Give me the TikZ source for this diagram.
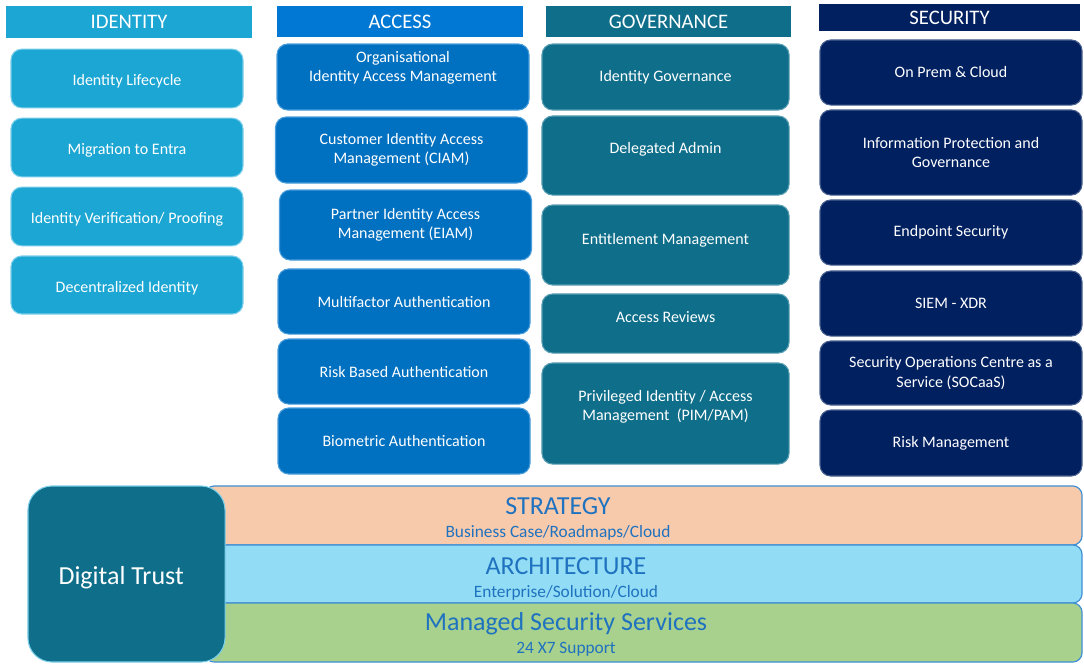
\documentclass[tikz,border=0pt]{standalone}
\usepackage{fontspec}
\setmainfont{Carlito}
\definecolor{idblue}{HTML}{1CA6D3}
\definecolor{idedge}{HTML}{7CCFEA}
\definecolor{acchead}{HTML}{0078D4}
\definecolor{accblue}{HTML}{0070C0}
\definecolor{accedge}{HTML}{4A9EDC}
\definecolor{govteal}{HTML}{0F6E8A}
\definecolor{govedge}{HTML}{5A9FB3}
\definecolor{secnavy}{HTML}{002060}
\definecolor{secedge}{HTML}{4A6290}
\definecolor{stratfill}{HTML}{F8CAAC}
\definecolor{archfill}{HTML}{92DDF5}
\definecolor{mssfill}{HTML}{A9D18E}
\definecolor{bandedge}{HTML}{3F8FD4}
\definecolor{bandtext}{HTML}{1F72BF}
\tikzset{
    header/.style={rectangle, text=white, font=\fontsize{15.5}{17}\selectfont, inner sep=0pt},
    tile/.style={rectangle, rounded corners=8pt, text=white, align=center,
        font=\fontsize{12}{14.5}\selectfont, inner sep=0pt, line width=0.8pt},
    idtile/.style={tile, fill=idblue, draw=idedge, minimum width=174pt, text height=13pt},
    band/.style={rectangle, rounded corners=7pt, draw=bandedge, line width=0.9pt, inner sep=0pt},
    bandtitle/.style={text=bandtext, font=\fontsize{19.5}{21}\selectfont, inner sep=0pt},
    bandsub/.style={text=bandtext, font=\fontsize{13}{15}\selectfont, inner sep=0pt}
}
\begin{document}
\begin{tikzpicture}[x=0.75pt, y=-0.75pt]
    \useasboundingbox[fill=white] (0,0) rectangle (1084,664);

    % column headers
    \node[header, fill=idblue, minimum width=184.5pt, minimum height=24pt] (hid) at (129,22) {IDENTITY};
    \node[header, fill=acchead, minimum width=184.5pt, minimum height=23.3pt] (hacc) at (400,21.5) {ACCESS};
    \node[header, fill=govteal, minimum width=183.8pt, minimum height=23.3pt] (hgov) at (668.5,21.5) {GOVERNANCE};
    \node[header, fill=secnavy, minimum width=195.8pt, minimum height=20.3pt] (hsec) at (949.5,17.5) {SECURITY};

    % identity
    \node[idtile, minimum height=44pt] (lifecycle) at (127,78.5) {Identity Lifecycle};
    \node[idtile, minimum height=44pt] (entra) at (127,147.5) {Migration to Entra};
    \node[idtile, minimum height=44pt] (proofing) at (127,216.5) {Identity Verification/ Proofing};
    \node[idtile, minimum height=43.5pt] (decentral) at (127,285) {Decentralized Identity};

    % access
    \node[tile, fill=accblue, draw=accedge, minimum width=189pt, minimum height=49.5pt, text depth=16pt] (orgiam) at (403,77) {Organisational\\Identity Access Management};
    \node[tile, fill=accblue, draw=accedge, minimum width=189pt, minimum height=49.5pt] (ciam) at (401.5,150) {Customer Identity Access\\Management (CIAM)};
    \node[tile, fill=accblue, draw=accedge, minimum width=189pt, minimum height=52.5pt] (eiam) at (405.5,225) {Partner Identity Access\\Management (EIAM)};
    \node[tile, fill=accblue, draw=accedge, minimum width=189pt, minimum height=48.8pt] (mfa) at (404,301.5) {Multifactor Authentication};
    \node[tile, fill=accblue, draw=accedge, minimum width=189pt, minimum height=48.8pt] (rba) at (404,371.5) {Risk Based Authentication};
    \node[tile, fill=accblue, draw=accedge, minimum width=189pt, minimum height=49.5pt] (bio) at (404,441) {Biometric Authentication};

    % governance
    \node[tile, fill=govteal, draw=govedge, minimum width=185.3pt, minimum height=49.5pt] (idgov) at (665.5,77) {Identity Governance};
    \node[tile, fill=govteal, draw=govedge, minimum width=185.3pt, minimum height=59.3pt, text depth=12pt] (deleg) at (665.5,155.5) {Delegated Admin};
    \node[tile, fill=govteal, draw=govedge, minimum width=185.3pt, minimum height=60pt, text depth=9.5pt] (entitle) at (665.5,245) {Entitlement Management};
    \node[tile, fill=govteal, draw=govedge, minimum width=185.3pt, minimum height=44.3pt, text depth=10pt] (reviews) at (665.5,323.5) {Access Reviews};
    \node[tile, fill=govteal, draw=govedge, minimum width=185.3pt, minimum height=75.8pt, text depth=12pt] (pim) at (665.5,413.5) {Privileged Identity / Access\\Management~ (PIM/PAM)};

    % security
    \node[tile, fill=secnavy, draw=secedge, minimum width=196.5pt, minimum height=48.8pt] (onprem) at (951,72.5) {On Prem \& Cloud};
    \node[tile, fill=secnavy, draw=secedge, minimum width=196.5pt, minimum height=63.8pt] (infoprot) at (951,152.5) {Information Protection and\\Governance};
    \node[tile, fill=secnavy, draw=secedge, minimum width=196.5pt, minimum height=48.8pt] (endpoint) at (951,232.5) {Endpoint Security};
    \node[tile, fill=secnavy, draw=secedge, minimum width=196.5pt, minimum height=48.8pt] (siem) at (951,303.5) {SIEM - XDR};
    \node[tile, fill=secnavy, draw=secedge, minimum width=196.5pt, minimum height=48pt] (soc) at (951,373) {Security Operations Centre as a\\Service (SOCaaS)};
    \node[tile, fill=secnavy, draw=secedge, minimum width=196.5pt, minimum height=49.5pt] (riskmgmt) at (951,443) {Risk Management};

    % service bands
    \node[band, fill=stratfill, minimum width=657.8pt, minimum height=44.3pt] (strategy) at (643.5,515.5) {};
    \node[band, fill=archfill, minimum width=657.8pt, minimum height=43.5pt] (arch) at (643.5,574) {};
    \node[band, fill=mssfill, minimum width=657.8pt, minimum height=44.3pt] (mss) at (643.5,632.5) {};
    \node[bandtitle] (strattitle) at (558,506) {STRATEGY};
    \node[bandsub] (stratsub) at (558,532.5) {Business Case/Roadmaps/Cloud};
    \node[bandtitle] (archtitle) at (566,566) {ARCHITECTURE};
    \node[bandsub] (archsub) at (566,592.5) {Enterprise/Solution/Cloud};
    \node[bandtitle] (msstitle) at (566,624) {Managed Security Services};
    \node[bandsub] (msssub) at (566,649.5) {24 X7 Support};

    \node[rectangle, rounded corners=18pt, fill=govteal, draw=idedge, line width=0.8pt,
        minimum width=147.8pt, minimum height=132pt, text=white, text height=19pt,
        font=\fontsize{19.5}{21}\selectfont] (trust) at (126.5,574) {\hspace*{-8pt}Digital Trust};
\end{tikzpicture}
\end{document}
